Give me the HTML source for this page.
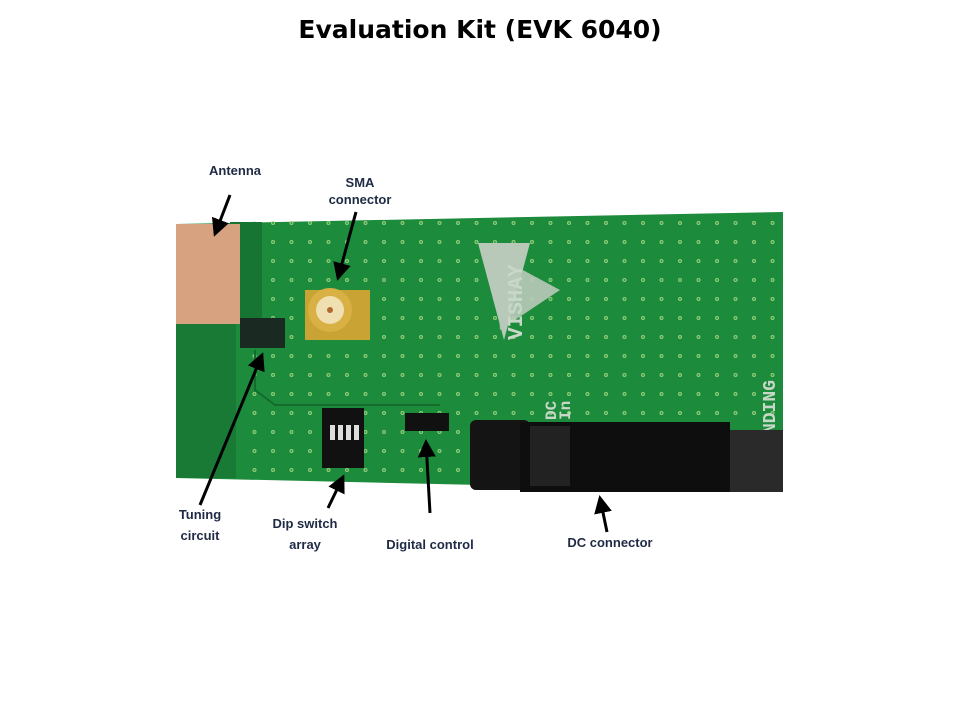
<!DOCTYPE html>
<html><head><style>
body{margin:0;width:960px;height:720px;background:#fff;position:relative;overflow:hidden;font-family:"Liberation Sans",sans-serif}
.t{position:absolute;color:#1f2a44;font-weight:bold;font-size:13px;text-align:center;line-height:21px}
h1{position:absolute;top:15px;left:0;width:960px;text-align:center;margin:0;font-family:"DejaVu Sans",sans-serif;font-size:25px;font-weight:bold;color:#000}
</style></head><body>
<h1>Evaluation Kit (EVK 6040)</h1>
<svg width="960" height="720" style="position:absolute;left:0;top:0">
<defs>
<pattern id="d" width="18.5" height="19" patternUnits="userSpaceOnUse" x="5" y="5">
<circle cx="9" cy="9" r="2" fill="#8fce7a"/><circle cx="9" cy="9" r="0.9" fill="#2a8a3a"/>
</pattern>
<marker id="a" markerWidth="6" markerHeight="6" refX="5" refY="3" orient="auto"><path d="M0,0L6,3L0,6z" fill="#000"/></marker>
</defs>
<polygon points="176,224 783,212 783,492 176,478" fill="#1d8b3c"/>
<polygon points="240,222 783,212 783,492 240,480" fill="url(#d)"/>
<rect x="176" y="323" width="60" height="155" fill="#197a35"/>
<rect x="230" y="222" width="32" height="100" fill="#177533"/>
<rect x="176" y="224" width="64" height="100" fill="#d7a27f"/>
<polygon points="478,243 530,243 504,340" fill="#b9c9b9"/>
<polygon points="495,255 560,290 500,330" fill="#b9c9b9" opacity="0.9"/>
<text x="522" y="340" transform="rotate(-90 522 340)" font-size="21" font-weight="bold" fill="#c8d8c8" font-family="Liberation Mono">VISHAY</text>
<text x="775" y="488" transform="rotate(-90 775 488)" font-size="18" font-weight="bold" fill="#c8d8c8" font-family="Liberation Mono">NT PENDING</text>
<text x="556" y="420" transform="rotate(-90 556 420)" font-size="16" font-weight="bold" fill="#c8d8c8" font-family="Liberation Mono">DC</text>
<text x="570" y="420" transform="rotate(-90 570 420)" font-size="16" font-weight="bold" fill="#c8d8c8" font-family="Liberation Mono">In</text>
<rect x="305" y="290" width="65" height="50" fill="#c9a434"/>
<circle cx="330" cy="310" r="22" fill="#d9b043"/><circle cx="330" cy="310" r="14" fill="#f0dfb0"/><circle cx="330" cy="310" r="3" fill="#b06a30"/>
<rect x="240" y="318" width="45" height="30" fill="#1a2a22"/>
<path d="M255,350 L255,390 L275,405 L440,405" stroke="#146b2c" stroke-width="2" fill="none"/>
<rect x="322" y="408" width="42" height="60" fill="#111"/>
<rect x="330" y="425" width="5" height="15" fill="#ddd"/><rect x="338" y="425" width="5" height="15" fill="#ddd"/><rect x="346" y="425" width="5" height="15" fill="#ddd"/><rect x="354" y="425" width="5" height="15" fill="#ddd"/>
<rect x="405" y="413" width="44" height="18" fill="#111"/>
<rect x="470" y="420" width="60" height="70" rx="6" fill="#141414"/>
<rect x="520" y="422" width="210" height="70" fill="#0e0e0e"/>
<rect x="530" y="426" width="40" height="60" fill="#222"/>
<rect x="730" y="430" width="53" height="62" fill="#2a2a2a"/>
<g stroke="#000" stroke-width="3" marker-end="url(#a)">
<line x1="230" y1="195" x2="215" y2="234"/>
<line x1="356" y1="212" x2="338" y2="278"/>
<line x1="200" y1="505" x2="262" y2="355"/>
<line x1="328" y1="508" x2="343" y2="477"/>
<line x1="430" y1="513" x2="426" y2="442"/>
<line x1="607" y1="532" x2="600" y2="498"/>
</g>
</svg>
<div class="t" style="left:195px;top:160px;width:80px">Antenna</div>
<div class="t" style="left:315px;top:174px;width:90px;line-height:17px">SMA<br>connector</div>
<div class="t" style="left:160px;top:504px;width:80px">Tuning<br>circuit</div>
<div class="t" style="left:260px;top:513px;width:90px">Dip switch<br>array</div>
<div class="t" style="left:370px;top:534px;width:120px">Digital control</div>
<div class="t" style="left:550px;top:532px;width:120px">DC connector</div>
</body></html>
